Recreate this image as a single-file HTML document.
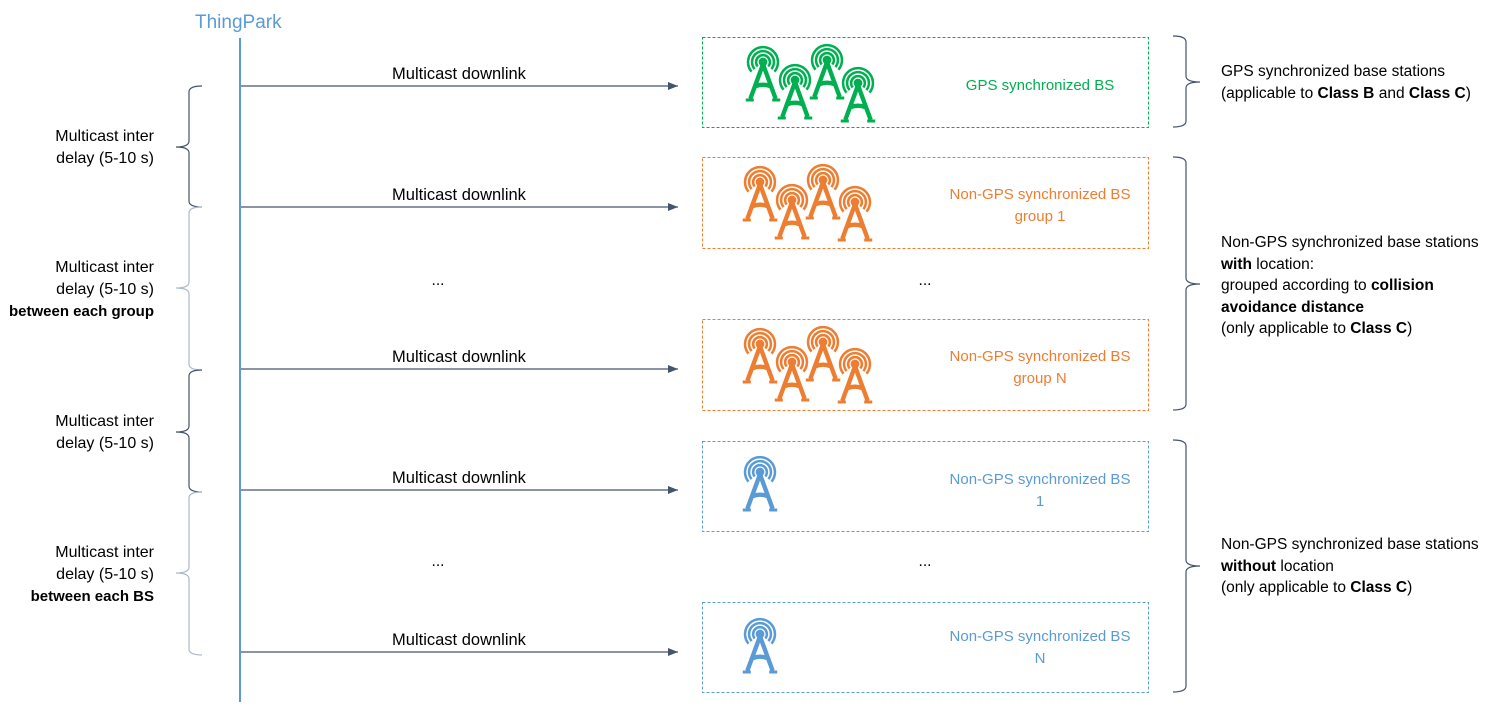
<!DOCTYPE html>
<html><head><meta charset="utf-8"><style>
html,body{margin:0;padding:0;background:#fff;}
svg{display:block;}
text{font-family:"Liberation Sans",sans-serif;font-size:15.5px;fill:#000;}
.l{font-size:16.5px;}
.m{font-size:16px;}
.x{font-size:15px;}
.bb{font-size:15px;font-weight:bold;}
.b{font-weight:bold;}
</style></head><body>
<svg width="1489" height="712" viewBox="0 0 1489 712" xmlns="http://www.w3.org/2000/svg">
<defs>
<symbol id="tw" overflow="visible" viewBox="-20 -20 40 60" width="46" height="69">
<circle cx="0" cy="0" r="3.8" stroke="none"/>
<g fill="none" stroke-width="2.2">
<path d="M-4.6,3.9 A6 6 0 1 1 4.6,3.9"/>
<path d="M-7.3,6.1 A9.5 9.5 0 1 1 7.3,6.1"/>
<path d="M-10,8.4 A13 13 0 1 1 10,8.4"/>
</g>
<g fill="none" stroke-width="3.8" stroke-linecap="butt">
<path d="M0,2 L-11,32 M0,2 L11,32"/>
<path d="M-6.5,21 Q0,18.5 6.5,21"/>
<path d="M-15,33 L-8,33 M8,33 L15,33" stroke-width="2.6"/>
</g>
</symbol>
<marker id="ar" markerWidth="10" markerHeight="8" refX="10" refY="4" orient="auto" markerUnits="userSpaceOnUse">
<path d="M0,0 L10,4 L0,8 z" fill="#44546a"/>
</marker>
</defs>

<text x="195" y="28" style="font-size:19px;fill:#5b9bd5">ThingPark</text>
<line x1="240" y1="38" x2="240" y2="702" stroke="#5b9bd5" stroke-width="2"/>

<g stroke="#44546a" stroke-width="1.2">
<line x1="241" y1="86" x2="678" y2="86" marker-end="url(#ar)"/>
<line x1="241" y1="207" x2="678" y2="207" marker-end="url(#ar)"/>
<line x1="241" y1="369" x2="678" y2="369" marker-end="url(#ar)"/>
<line x1="241" y1="490" x2="678" y2="490" marker-end="url(#ar)"/>
<line x1="241" y1="652" x2="678" y2="652" marker-end="url(#ar)"/>
</g>
<g text-anchor="middle">
<text x="459" y="79" class="l">Multicast downlink</text>
<text x="459" y="200" class="l">Multicast downlink</text>
<text x="459" y="362" class="l">Multicast downlink</text>
<text x="459" y="483" class="l">Multicast downlink</text>
<text x="459" y="645" class="l">Multicast downlink</text>
<text x="438" y="285">...</text>
<text x="925" y="285">...</text>
<text x="438" y="566">...</text>
<text x="925" y="566">...</text>
</g>

<g fill="none" stroke-width="1" stroke-dasharray="3,2">
<rect x="702.5" y="37.5" width="446" height="90" stroke="#00b050"/>
<rect x="702.5" y="157.5" width="446" height="91" stroke="#ed7d31"/>
<rect x="702.5" y="319.5" width="446" height="91" stroke="#ed7d31"/>
<rect x="702.5" y="441.5" width="446" height="90" stroke="#5b9bd5"/>
<rect x="702.5" y="602.5" width="446" height="90" stroke="#5b9bd5"/>
</g>

<g fill="#00b050" stroke="#00b050">
<use href="#tw" x="740" y="39"/><use href="#tw" x="772" y="57"/>
<use href="#tw" x="804" y="37"/><use href="#tw" x="835" y="60"/>
</g>
<g fill="#ed7d31" stroke="#ed7d31">
<use href="#tw" x="737" y="159"/><use href="#tw" x="769" y="177"/>
<use href="#tw" x="800" y="157"/><use href="#tw" x="832" y="179"/>
<use href="#tw" x="737" y="321"/><use href="#tw" x="769" y="339"/>
<use href="#tw" x="800" y="319"/><use href="#tw" x="832" y="341"/>
</g>
<g fill="#5b9bd5" stroke="#5b9bd5">
<use href="#tw" x="737" y="449"/>
<use href="#tw" x="737" y="611"/>
</g>

<g text-anchor="middle">
<text x="1040" y="90" class="x" style="fill:#00b050">GPS synchronized BS</text>
<text x="1040" y="199" class="x" style="fill:#ed7d31">Non-GPS synchronized BS</text>
<text x="1040" y="221" class="x" style="fill:#ed7d31">group 1</text>
<text x="1040" y="361" class="x" style="fill:#ed7d31">Non-GPS synchronized BS</text>
<text x="1040" y="383" class="x" style="fill:#ed7d31">group N</text>
<text x="1040" y="484" class="x" style="fill:#5b9bd5">Non-GPS synchronized BS</text>
<text x="1040" y="506" class="x" style="fill:#5b9bd5">1</text>
<text x="1040" y="641" class="x" style="fill:#5b9bd5">Non-GPS synchronized BS</text>
<text x="1040" y="663" class="x" style="fill:#5b9bd5">N</text>
</g>

<g fill="none" stroke-width="1.2">
<path d="M202,86 Q189,86 189,92 L189,141 Q189,147 176,147 Q189,147 189,153 L189,201 Q189,207 202,207" stroke="#44546a"/>
<path d="M202,207 Q189,207 189,213 L189,282 Q189,288 176,288 Q189,288 189,294 L189,364 Q189,370 202,370" stroke="#adb9ca"/>
<path d="M202,370 Q189,370 189,376 L189,426 Q189,432 176,432 Q189,432 189,438 L189,486 Q189,492 202,492" stroke="#44546a"/>
<path d="M202,492 Q189,492 189,498 L189,567 Q189,573 176,573 Q189,573 189,579 L189,649 Q189,655 202,655" stroke="#adb9ca"/>
</g>
<g text-anchor="end">
<text x="154" y="141" class="m">Multicast inter</text>
<text x="154" y="163" class="m">delay (5-10 s)</text>
<text x="154" y="272" class="m">Multicast inter</text>
<text x="154" y="294" class="m">delay (5-10 s)</text>
<text x="154" y="316" class="bb">between each group</text>
<text x="154" y="426" class="m">Multicast inter</text>
<text x="154" y="448" class="m">delay (5-10 s)</text>
<text x="154" y="557" class="m">Multicast inter</text>
<text x="154" y="579" class="m">delay (5-10 s)</text>
<text x="154" y="601" class="bb">between each BS</text>
</g>

<g fill="none" stroke="#44546a" stroke-width="1.2">
<path d="M1173,36 Q1186,36 1186,42 L1186,76 Q1186,82 1200,82 Q1186,82 1186,88 L1186,121 Q1186,127 1173,127"/>
<path d="M1173,157 Q1186,157 1186,163 L1186,278 Q1186,284 1200,284 Q1186,284 1186,290 L1186,404 Q1186,410 1173,410"/>
<path d="M1173,440 Q1186,440 1186,446 L1186,560 Q1186,566 1200,566 Q1186,566 1186,572 L1186,686 Q1186,692 1173,692"/>
</g>
<g>
<text x="1221" y="76">GPS synchronized base stations</text>
<text x="1221" y="98">(applicable to <tspan class="b">Class B</tspan> and <tspan class="b">Class C</tspan>)</text>
<text x="1221" y="247">Non-GPS synchronized base stations</text>
<text x="1221" y="269"><tspan class="b">with</tspan> location:</text>
<text x="1221" y="290">grouped according to <tspan class="b">collision</tspan></text>
<text x="1221" y="312" class="b">avoidance distance</text>
<text x="1221" y="333">(only applicable to <tspan class="b">Class C</tspan>)</text>
<text x="1221" y="549">Non-GPS synchronized base stations</text>
<text x="1221" y="571"><tspan class="b">without</tspan> location</text>
<text x="1221" y="592">(only applicable to <tspan class="b">Class C</tspan>)</text>
</g>
</svg>
</body></html>
